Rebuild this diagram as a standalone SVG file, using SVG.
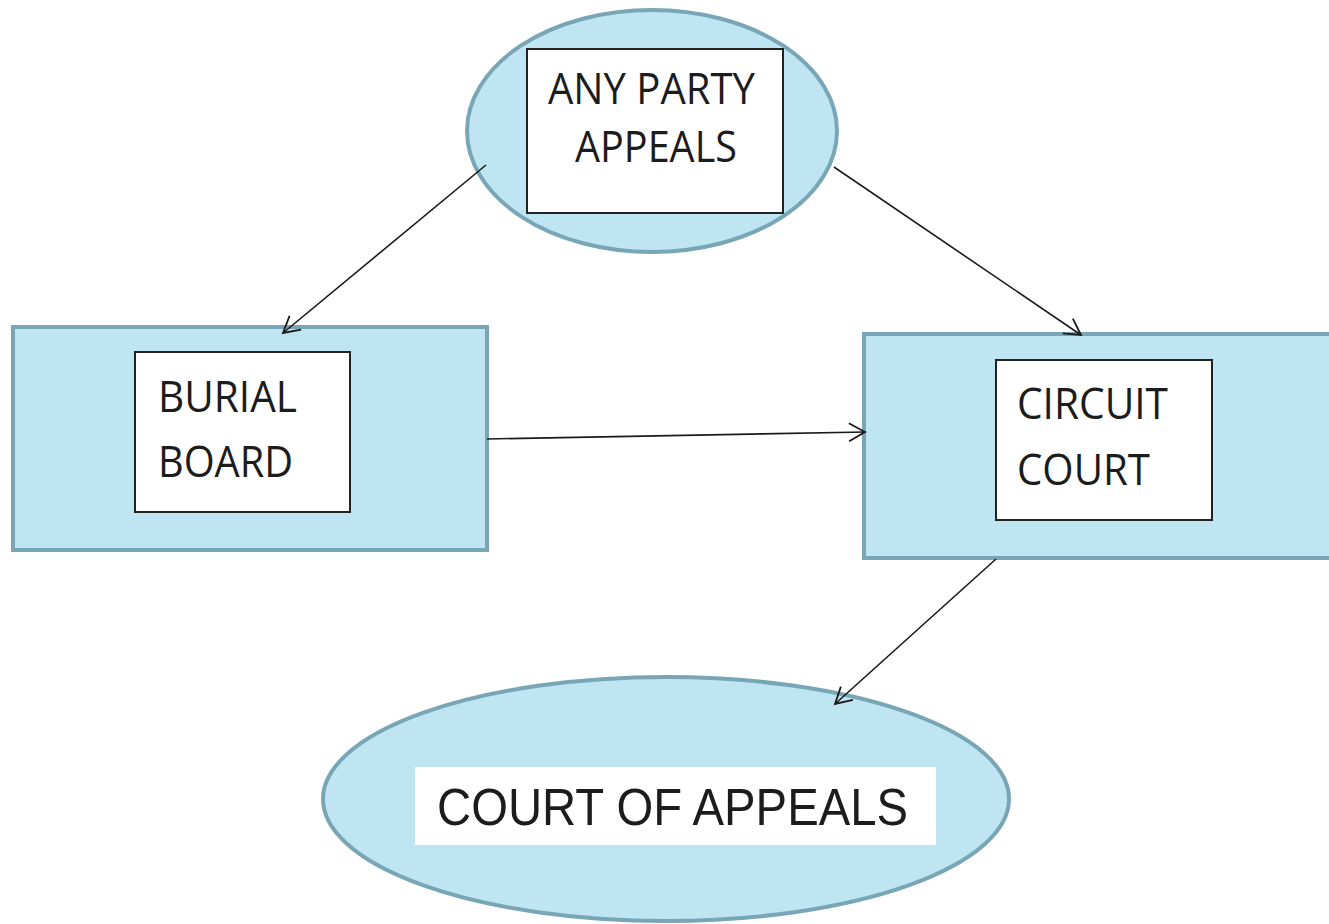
<svg xmlns="http://www.w3.org/2000/svg" width="1329" height="924" viewBox="0 0 1329 924">
<style>
.shape{fill:#bfe4f2;stroke:#78a6b6;stroke-width:4}
.box{fill:#ffffff;stroke:#222222;stroke-width:2}
.lbl{font-family:"Open Sans","Noto Sans",sans-serif;font-size:43px;fill:#1c1c1c}
.lbl2{font-family:"Liberation Sans",Arial,sans-serif;font-size:51px;fill:#1c1c1c}
.conn{stroke:#1a1a1a;stroke-width:1.6;fill:none;marker-end:url(#arr)}
</style>
<defs>
<marker id="arr" markerUnits="userSpaceOnUse" markerWidth="24" markerHeight="24" refX="18" refY="10" orient="auto" viewBox="0 0 24 20">
<path d="M2,1 L18,10 L2,19" fill="none" stroke="#1a1a1a" stroke-width="1.8"/>
</marker>
</defs>
<rect width="1329" height="924" fill="#ffffff"/>
<g id="node-any-party">
<ellipse class="shape" cx="652" cy="131" rx="185" ry="121"/>
<rect class="box" x="527" y="49" width="256" height="164"/>
<text class="lbl" x="548" y="104" textLength="207" lengthAdjust="spacingAndGlyphs">ANY PARTY</text>
<text class="lbl" x="575" y="162" textLength="162" lengthAdjust="spacingAndGlyphs">APPEALS</text>
</g>
<g id="node-burial-board">
<rect class="shape" x="13" y="327" width="474" height="223"/>
<rect class="box" x="135" y="352" width="215" height="160"/>
<text class="lbl" x="158" y="412" textLength="139" lengthAdjust="spacingAndGlyphs">BURIAL</text>
<text class="lbl" x="158" y="477" textLength="135" lengthAdjust="spacingAndGlyphs">BOARD</text>
</g>
<g id="node-circuit-court">
<rect class="shape" x="864" y="334" width="480" height="224"/>
<rect class="box" x="996" y="360" width="216" height="160"/>
<text class="lbl" x="1017" y="419" textLength="151" lengthAdjust="spacingAndGlyphs">CIRCUIT</text>
<text class="lbl" x="1017" y="485" textLength="133" lengthAdjust="spacingAndGlyphs">COURT</text>
</g>
<g id="node-court-of-appeals">
<ellipse class="shape" cx="666" cy="799" rx="343" ry="122"/>
<rect x="415" y="767" width="521" height="78" fill="#ffffff"/>
<text class="lbl2" x="437" y="825" textLength="471" lengthAdjust="spacingAndGlyphs">COURT OF APPEALS</text>
</g>
<g id="connectors">
<line class="conn" x1="486" y1="165" x2="283" y2="333"/>
<line class="conn" x1="834" y1="167" x2="1081" y2="335"/>
<line class="conn" x1="487" y1="439" x2="865" y2="432"/>
<line class="conn" x1="996" y1="559" x2="835" y2="704"/>
</g>
</svg>
